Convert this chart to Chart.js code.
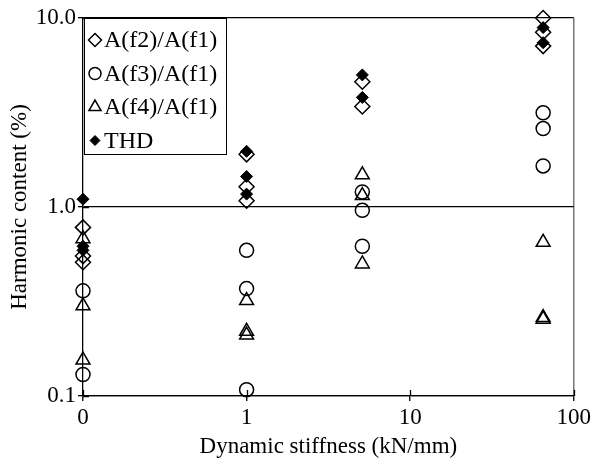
<!DOCTYPE html>
<html><head><meta charset="utf-8">
<script src="https://cdn.jsdelivr.net/npm/chart.js@4"></script>
<style>html,body{margin:0;padding:0;background:#fff}#wrap{width:594px;height:464px}</style>
</head><body><div id="wrap"><canvas id="c" width="594" height="464"></canvas></div>
<script>
// Dynamic stiffness groups (kN/mm); 0 is drawn at the axis origin
const stiffness = [0, 1, 5.1, 65];
const xTickValues = [0, 1, 10, 100];
const yTickLabels = ["0.1", "1.0", "10.0"];
const yTickValues = [0.1, 1, 10];
const seriesNames = ["A(f2)/A(f1)", "A(f3)/A(f1)", "A(f4)/A(f1)", "THD"];
// values per stiffness group
const f2Values = [[0.78, 0.55, 0.51], [1.9, 1.28, 1.08], [4.6, 3.4], [10.0, 8.4, 7.1]];
const f3Values = [[0.36, 0.13], [0.59, 0.37, 0.108], [1.2, 0.96, 0.62], [3.15, 2.6, 1.65]];
const f4Values = [[0.68, 0.30, 0.155], [0.32, 0.22, 0.21], [1.48, 1.15, 0.5], [0.65, 0.26, 0.255]];
const thdValues = [[1.1, 0.62, 0.59], [1.97, 1.45, 1.17], [5.0, 3.8], [8.9, 7.4]];

const ORIGIN = 0.1;
const toX = v => (v === 0 ? ORIGIN : v);
function pts(groups) {
  const out = [];
  groups.forEach((g, i) => g.forEach(v => out.push({x: toX(stiffness[i]), y: v})));
  return out;
}
const FONT = "'Liberation Serif', 'Times New Roman', serif";
const styles = [
  {pointStyle: 'rectRot', radius: 7.5, bg: 'rgba(0,0,0,0)', bw: 1.5},
  {pointStyle: 'circle', radius: 7, bg: 'rgba(0,0,0,0)', bw: 1.5},
  {pointStyle: 'triangle', radius: 8, bg: 'rgba(0,0,0,0)', bw: 1.5},
  {pointStyle: 'rectRot', radius: 6, bg: '#000', bw: 1}
];
const allData = [f2Values, f3Values, f4Values, thdValues];
const datasets = allData.map((d, i) => ({
  label: seriesNames[i],
  data: pts(d),
  pointStyle: styles[i].pointStyle,
  pointRadius: styles[i].radius,
  pointHoverRadius: styles[i].radius,
  pointBackgroundColor: styles[i].bg,
  pointBorderColor: '#000',
  pointBorderWidth: styles[i].bw,
  showLine: false,
  clip: false,
  order: 4 - i
}));

const crossTicks = {
  id: 'crossTicks',
  afterDraw(chart) {
    const ctx = chart.ctx, a = chart.chartArea;
    const xs = chart.scales.x, ys = chart.scales.y;
    ctx.save();
    ctx.strokeStyle = '#000';
    ctx.lineWidth = 1.3;
    ctx.beginPath();
    xTickValues.forEach(v => {
      const px = Math.round(xs.getPixelForValue(toX(v))) + 0.5;
      ctx.moveTo(px, a.bottom - 6); ctx.lineTo(px, a.bottom);
    });
    yTickValues.forEach(v => {
      const py = Math.round(ys.getPixelForValue(v)) + 0.5;
      ctx.moveTo(a.left, py); ctx.lineTo(a.left + 6, py);
    });
    ctx.stroke();
    // legend box
    const bx = a.left + 1, by = a.top, bw = 142, bh = 136;
    ctx.lineWidth = 1;
    ctx.strokeStyle = '#000';
    ctx.fillStyle = '#fff';
    ctx.fillRect(bx, by, bw, bh);
    ctx.strokeRect(bx + 0.5, by + 0.5, bw, bh);
    ctx.font = '24px ' + FONT;
    ctx.textBaseline = 'middle';
    chart.data.datasets.forEach((ds, i) => {
      const cy = by + 22 + i * 33.5;
      const s = styles[i];
      ctx.fillStyle = s.bg;
      ctx.strokeStyle = '#000';
      ctx.lineWidth = s.bw;
      Chart.helpers.drawPoint(ctx, {pointStyle: s.pointStyle, radius: s.radius - 1, borderWidth: s.bw, rotation: 0}, bx + 11, cy);
      ctx.fillStyle = '#000';
      ctx.fillText(ds.label, bx + 20, cy + 1);
    });
    ctx.restore();
  }
};

new Chart(document.getElementById('c'), {
  type: 'scatter',
  data: {datasets},
  plugins: [crossTicks],
  options: {
    responsive: false,
    animation: false,
    devicePixelRatio: 1,
    layout: {padding: {left: 0, top: 18, right: 19, bottom: 0}},
    plugins: {legend: {display: false}, tooltip: {enabled: false}},
    scales: {
      x: {
        type: 'logarithmic',
        min: ORIGIN, max: 100,
        afterBuildTicks: s => { s.ticks = xTickValues.map(v => ({value: toX(v)})); },
        afterFit: s => { s.height = 68; },
        border: {display: true, color: '#000', width: 1.3},
        grid: {
          drawOnChartArea: true,
          color: c => (c.tick && c.tick.value === 100 ? '#777' : 'rgba(0,0,0,0)'),
          lineWidth: 1.5,
          drawTicks: true, tickLength: 5, tickColor: '#000', tickWidth: 1.3
        },
        ticks: {
          color: '#000', font: {family: FONT, size: 23}, padding: 3, maxRotation: 0, autoSkip: false,
          callback: (v) => { const i = xTickValues.findIndex(t => toX(t) === v); return i >= 0 ? String(xTickValues[i]) : ''; }
        },
        title: {display: true, text: 'Dynamic stiffness (kN/mm)', color: '#000', font: {family: FONT, size: 23}, padding: {top: 0, bottom: 3}}
      },
      y: {
        type: 'logarithmic',
        min: 0.1, max: 10,
        afterBuildTicks: s => { s.ticks = yTickValues.map(v => ({value: v})); },
        afterFit: s => { s.width = 83; },
        border: {display: true, color: '#000', width: 1.3},
        grid: {
          color: '#000', lineWidth: 1.3,
          drawTicks: true, tickLength: 5, tickColor: '#000', tickWidth: 1.3
        },
        ticks: {
          color: '#000', font: {family: FONT, size: 23}, padding: 2, autoSkip: false,
          callback: (v) => { const i = yTickValues.indexOf(v); return i >= 0 ? yTickLabels[i] : ''; }
        },
        title: {display: true, text: 'Harmonic content (%)', color: '#000', font: {family: FONT, size: 23}, padding: {top: 6, bottom: 2}}
      }
    }
  }
});
</script>
</body></html>
